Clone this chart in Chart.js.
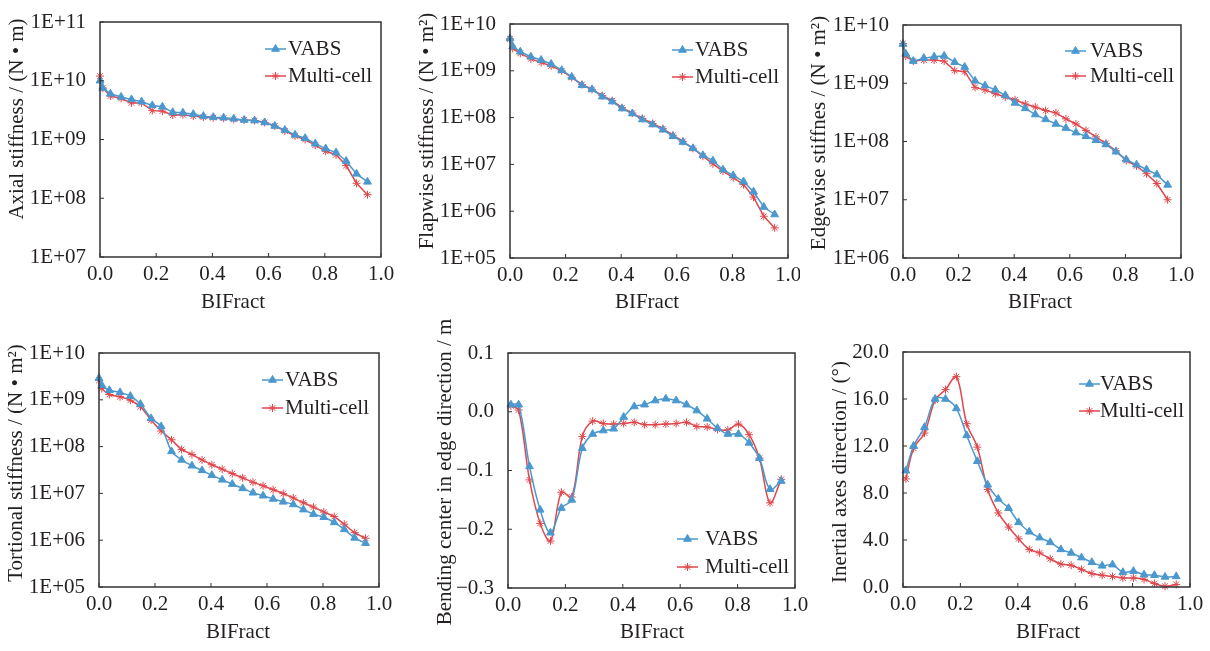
<!DOCTYPE html>
<html lang="en">
<head>
<meta charset="UTF-8">
<title>Blade section properties - VABS vs Multi-cell</title>
<script src="https://cdn.jsdelivr.net/npm/chart.js"></script>
<style>
  body { margin: 0; background: #fff; }
  #wrap { position: relative; width: 1210px; height: 651px; }
  canvas { position: absolute; }
</style>
</head>
<body>
<div id="wrap"></div>
<script>
// spanwise stations (BlFract)
const stations = [0, 0.01, 0.037, 0.075, 0.112, 0.148, 0.186, 0.222, 0.259, 0.295, 0.332, 0.368, 0.403, 0.44,
                  0.476, 0.513, 0.55, 0.586, 0.622, 0.658, 0.694, 0.73, 0.766, 0.803, 0.84, 0.876, 0.913, 0.952];
const xTicks = [0, 0.2, 0.4, 0.6, 0.8, 1.0];

// axial stiffness (N*m)
const axialVabs  = [1.0e10, 7.5e9, 6.0e9, 5.3e9, 4.8e9, 4.4e9, 3.8e9, 3.6e9, 2.9e9, 2.85e9, 2.7e9, 2.5e9, 2.4e9, 2.35e9,
                    2.25e9, 2.15e9, 2.1e9, 1.95e9, 1.7e9, 1.45e9, 1.2e9, 1.05e9, 8.5e8, 7.0e8, 6.0e8, 4.3e8, 2.6e8, 1.9e8];
const axialMulti = [1.2e10, 7.5e9, 5.5e9, 5.0e9, 4.2e9, 4.2e9, 3.1e9, 3.05e9, 2.6e9, 2.65e9, 2.5e9, 2.4e9, 2.35e9, 2.3e9,
                    2.2e9, 2.15e9, 2.1e9, 1.95e9, 1.7e9, 1.4e9, 1.15e9, 1.0e9, 8.0e8, 6.3e8, 5.5e8, 3.6e8, 1.8e8, 1.15e8];
const axialTicks = [1e7, 1e8, 1e9, 1e10, 1e11];

// flapwise stiffness (N*m^2)
const flapVabs  = [4.9e9, 3.3e9, 2.55e9, 2.0e9, 1.7e9, 1.4e9, 1.03e9, 7.4e8, 4.9e8, 4.0e8, 2.8e8, 2.2e8, 1.56e8, 1.22e8,
                   9.1e7, 7.1e7, 5.5e7, 4.0e7, 3.0e7, 2.2e7, 1.56e7, 1.2e7, 7.7e6, 5.8e6, 4.3e6, 2.6e6, 1.23e6, 8.5e5];
const flapMulti = [4.8e9, 3.0e9, 2.35e9, 1.8e9, 1.5e9, 1.27e9, 1.0e9, 7.2e8, 5.1e8, 4.0e8, 2.95e8, 2.3e8, 1.63e8, 1.25e8,
                   9.6e7, 7.5e7, 5.8e7, 4.2e7, 3.1e7, 2.2e7, 1.5e7, 1.03e7, 7.2e6, 5.2e6, 3.7e6, 2.0e6, 7.8e5, 4.4e5];
const flapTicks = [1e5, 1e6, 1e7, 1e8, 1e9, 1e10];

// edgewise stiffness (N*m^2)
const edgeVabs  = [4.7e9, 3.2e9, 2.4e9, 2.7e9, 2.85e9, 2.95e9, 2.3e9, 1.9e9, 1.1e9, 9.1e8, 7.7e8, 6.2e8, 4.6e8, 3.7e8,
                   2.9e8, 2.4e8, 2.0e8, 1.7e8, 1.42e8, 1.23e8, 1.05e8, 8.9e7, 6.7e7, 4.9e7, 4.0e7, 3.3e7, 2.7e7, 1.8e7];
const edgeMulti = [4.8e9, 2.9e9, 2.4e9, 2.5e9, 2.5e9, 2.4e9, 1.65e9, 1.58e9, 8.5e8, 7.7e8, 6.6e8, 5.8e8, 5.2e8, 4.4e8,
                   3.9e8, 3.4e8, 3.1e8, 2.45e8, 2.0e8, 1.55e8, 1.2e8, 9.3e7, 6.9e7, 4.7e7, 3.8e7, 2.8e7, 1.9e7, 1.0e7];
const edgeTicks = [1e6, 1e7, 1e8, 1e9, 1e10];

// torsional stiffness (N*m^2)
const torsVabs  = [2.9e9, 2.05e9, 1.6e9, 1.44e9, 1.2e9, 8.1e8, 4.0e8, 2.7e8, 7.9e7, 5.2e7, 3.9e7, 3.1e7, 2.45e7, 1.95e7,
                   1.58e7, 1.28e7, 1.03e7, 8.9e6, 7.6e6, 6.6e6, 5.8e6, 4.5e6, 3.6e6, 3.1e6, 2.4e6, 1.7e6, 1.12e6, 8.6e5];
const torsMulti = [2.6e9, 1.75e9, 1.3e9, 1.16e9, 9.8e8, 7.1e8, 3.7e8, 2.15e8, 1.4e8, 8.7e7, 6.8e7, 5.2e7, 4.1e7, 3.3e7,
                   2.65e7, 2.15e7, 1.73e7, 1.46e7, 1.2e7, 9.9e6, 8.0e6, 6.3e6, 5.1e6, 4.0e6, 3.2e6, 2.2e6, 1.45e6, 1.1e6];
const torsTicks = [1e5, 1e6, 1e7, 1e8, 1e9, 1e10];

// bending center in edge direction (m), stations from 0.01
const bendVabs  = [0.012, 0.012, -0.093, -0.167, -0.206, -0.164, -0.150, -0.062, -0.038, -0.032, -0.029, -0.009, 0.009, 0.012,
                   0.019, 0.022, 0.019, 0.012, 0.002, -0.012, -0.028, -0.038, -0.038, -0.053, -0.079, -0.132, -0.118];
const bendMulti = [0.010, 0.003, -0.116, -0.190, -0.220, -0.137, -0.145, -0.042, -0.016, -0.020, -0.021, -0.020, -0.018, -0.022,
                   -0.022, -0.021, -0.020, -0.018, -0.025, -0.026, -0.030, -0.031, -0.021, -0.039, -0.079, -0.155, -0.115];
const bendTicks = [-0.3, -0.2, -0.1, 0, 0.1];

// inertial axes direction (deg), stations from 0.01
const inertVabs  = [9.9, 12.0, 13.6, 16.0, 16.0, 15.2, 12.9, 10.7, 8.7, 7.5, 6.7, 5.5, 4.7, 4.2,
                    3.8, 3.2, 2.9, 2.5, 2.1, 1.8, 1.9, 1.25, 1.35, 1.05, 1.0, 0.86, 0.9];
const inertMulti = [9.2, 11.8, 13.1, 15.9, 16.8, 17.9, 13.9, 11.9, 8.3, 6.3, 5.1, 4.1, 3.2, 2.9,
                    2.4, 1.95, 1.85, 1.5, 1.15, 1.0, 0.9, 0.77, 0.77, 0.65, 0.3, 0.06, 0.22];
const inertTicks = [0, 4, 8, 12, 16, 20];

const blue = '#4a98cf';
const red = '#e0474c';
const ink = '#231f20';
const serif = '"Liberation Serif", "Times New Roman", serif';

Chart.defaults.font.family = serif;
Chart.defaults.font.size = 21;
Chart.defaults.color = ink;

function toPoints(xs, ys) {
    return ys.map((y, i) => ({x: xs[i], y: y}));
}
function logLabel(v) {
    let e = Math.round(Math.log10(v));
    return '1E+' + String(e).padStart(2, '0');
}

// box, inward ticks, axis titles and legend
const decor = {
    id: 'decor',
    afterDraw(chart, args, o) {
        const ctx = chart.ctx, a = chart.chartArea;
        const xs = chart.scales.x, ys = chart.scales.y;
        ctx.save();
        ctx.strokeStyle = '#333';
        ctx.lineWidth = 1.5;
        ctx.strokeRect(a.left, a.top, a.right - a.left, a.bottom - a.top);
        ctx.lineWidth = 1;
        ctx.beginPath();
        xs.ticks.forEach(t => {
            let px = xs.getPixelForValue(t.value);
            ctx.moveTo(px, a.bottom); ctx.lineTo(px, a.bottom - 4);
        });
        ys.ticks.forEach(t => {
            let py = ys.getPixelForValue(t.value);
            ctx.moveTo(a.left, py); ctx.lineTo(a.left + 4, py);
        });
        ctx.stroke();

        ctx.fillStyle = ink;
        ctx.font = '21px ' + serif;
        ctx.textAlign = 'center';
        ctx.textBaseline = 'middle';
        ctx.fillText('BIFract', o.xTitle[0], o.xTitle[1]);
        ctx.save();
        ctx.translate(o.yTitle[0], o.yTitle[1]);
        ctx.rotate(-Math.PI / 2);
        ctx.fillText(o.yText, 0, 0);
        ctx.restore();

        // legend
        ctx.textAlign = 'left';
        chart.data.datasets.forEach((ds, i) => {
            let ly = o.legend.y[i];
            ctx.strokeStyle = ds.borderColor;
            ctx.fillStyle = ds.pointBackgroundColor;
            ctx.lineWidth = 1.5;
            ctx.beginPath();
            ctx.moveTo(o.legend.x, ly);
            ctx.lineTo(o.legend.x + 21, ly);
            ctx.stroke();
            ctx.lineWidth = ds.pointBorderWidth;
            Chart.helpers.drawPoint(ctx, {
                pointStyle: ds.pointStyle, radius: ds.pointRadius, borderWidth: ds.pointBorderWidth, rotation: 0
            }, o.legend.x + 10.5, ly);
            ctx.fillStyle = ink;
            ctx.fillText(ds.label, o.legend.tx, ly);
        });
        ctx.restore();
    }
};

function series(label, xs, ys, tension) {
    let isVabs = label === 'VABS';
    let c = isVabs ? blue : red;
    return {
        label: label,
        data: toPoints(xs, ys),
        borderColor: c,
        backgroundColor: c,
        pointBackgroundColor: c,
        pointBorderColor: c,
        pointStyle: isVabs ? 'triangle' : 'star',
        pointRadius: isVabs ? 4.5 : 4,
        pointBorderWidth: 1,
        borderWidth: 1.5,
        tension: tension,
        clip: false
    };
}

// panel geometry in page pixels
const panels = [
    {canvas: [0, 0, 400, 325], box: [100, 22, 381, 257], yText: 'Axial stiffness / (N • m)',
     yTitle: [17, 119], xTitle: [233, 302], legend: {x: 265, tx: 288, y: [49, 76]},
     type: 'logarithmic', min: 1e7, max: 1e11, ticks: axialTicks, xs: stations, vabs: axialVabs, multi: axialMulti, tension: 0},
    {canvas: [400, 0, 400, 325], box: [510, 24, 788, 258], yText: 'Flapwise stiffness / (N • m²)',
     yTitle: [427, 131], xTitle: [647, 302], legend: {x: 672, tx: 695, y: [50, 77]},
     type: 'logarithmic', min: 1e5, max: 1e10, ticks: flapTicks, xs: stations, vabs: flapVabs, multi: flapMulti, tension: 0},
    {canvas: [800, 0, 410, 325], box: [903, 25, 1181, 258], yText: 'Edgewise stiffnes / (N • m²)',
     yTitle: [819, 133], xTitle: [1040, 302], legend: {x: 1065, tx: 1090, y: [51, 76]},
     type: 'logarithmic', min: 1e6, max: 1e10, ticks: edgeTicks, xs: stations, vabs: edgeVabs, multi: edgeMulti, tension: 0},
    {canvas: [0, 325, 405, 326], box: [99, 353, 379, 587], yText: 'Tortional stiffness / (N • m²)',
     yTitle: [16, 463], xTitle: [238, 632], legend: {x: 262, tx: 285, y: [380, 408]},
     type: 'logarithmic', min: 1e5, max: 1e10, ticks: torsTicks, xs: stations, vabs: torsVabs, multi: torsMulti, tension: 0.25},
    {canvas: [405, 305, 405, 346], box: [508, 353, 795, 588], yText: 'Bending center in edge direction / m',
     yTitle: [445, 472], xTitle: [652, 632], legend: {x: 677, tx: 705, y: [539, 567]},
     type: 'linear', min: -0.3, max: 0.1, ticks: bendTicks, xs: stations.slice(1), vabs: bendVabs, multi: bendMulti, tension: 0.35,
     fmt: v => v.toFixed(1).replace('-', '\u2212')},
    {canvas: [810, 325, 400, 326], box: [903, 352, 1190, 587], yText: 'Inertial axes direction / (°)',
     yTitle: [840, 472], xTitle: [1048, 632], legend: {x: 1079, tx: 1100, y: [384, 411]},
     type: 'linear', min: 0, max: 20, ticks: inertTicks, xs: stations.slice(1), vabs: inertVabs, multi: inertMulti, tension: 0.35,
     fmt: v => v.toFixed(1)}
];

const wrap = document.getElementById('wrap');
panels.forEach(function(p, k) {
    let [cl, ct, cw, ch] = p.canvas;
    let [bl, bt, br, bb] = p.box;
    let cv = document.createElement('canvas');
    cv.width = cw; cv.height = ch;
    cv.style.left = cl + 'px'; cv.style.top = ct + 'px';
    cv.style.width = cw + 'px'; cv.style.height = ch + 'px';
    wrap.appendChild(cv);

    let yAxisW = bl - cl, xAxisH = ct + ch - bb;
    new Chart(cv, {
        type: 'line',
        data: {
            datasets: [series('VABS', p.xs, p.vabs, p.tension), series('Multi-cell', p.xs, p.multi, p.tension)]
        },
        options: {
            responsive: false,
            animation: false,
            events: [],
            layout: {padding: {left: 0, bottom: 0, top: bt - ct, right: cl + cw - br}},
            plugins: {
                legend: {display: false},
                tooltip: {enabled: false},
                decor: {
                    yText: p.yText,
                    yTitle: [p.yTitle[0] - cl, p.yTitle[1] - ct],
                    xTitle: [p.xTitle[0] - cl, p.xTitle[1] - ct],
                    legend: {x: p.legend.x - cl, tx: p.legend.tx - cl, y: p.legend.y.map(v => v - ct)}
                }
            },
            scales: {
                x: {
                    type: 'linear', min: 0, max: 1,
                    grid: {display: false},
                    border: {display: false},
                    afterBuildTicks: s => { s.ticks = xTicks.map(v => ({value: v})); },
                    afterFit: s => { s.height = xAxisH; },
                    ticks: {padding: -3, maxRotation: 0, autoSkip: false, callback: v => Number(v).toFixed(1)}
                },
                y: {
                    type: p.type, min: p.min, max: p.max,
                    grid: {display: false},
                    border: {display: false},
                    afterBuildTicks: s => { s.ticks = p.ticks.map(v => ({value: v})); },
                    afterFit: s => { s.width = yAxisW; },
                    ticks: {padding: 6, autoSkip: false, callback: v => p.fmt ? p.fmt(v) : logLabel(v)}
                }
            }
        },
        plugins: [decor]
    });
});
</script>
</body>
</html>
